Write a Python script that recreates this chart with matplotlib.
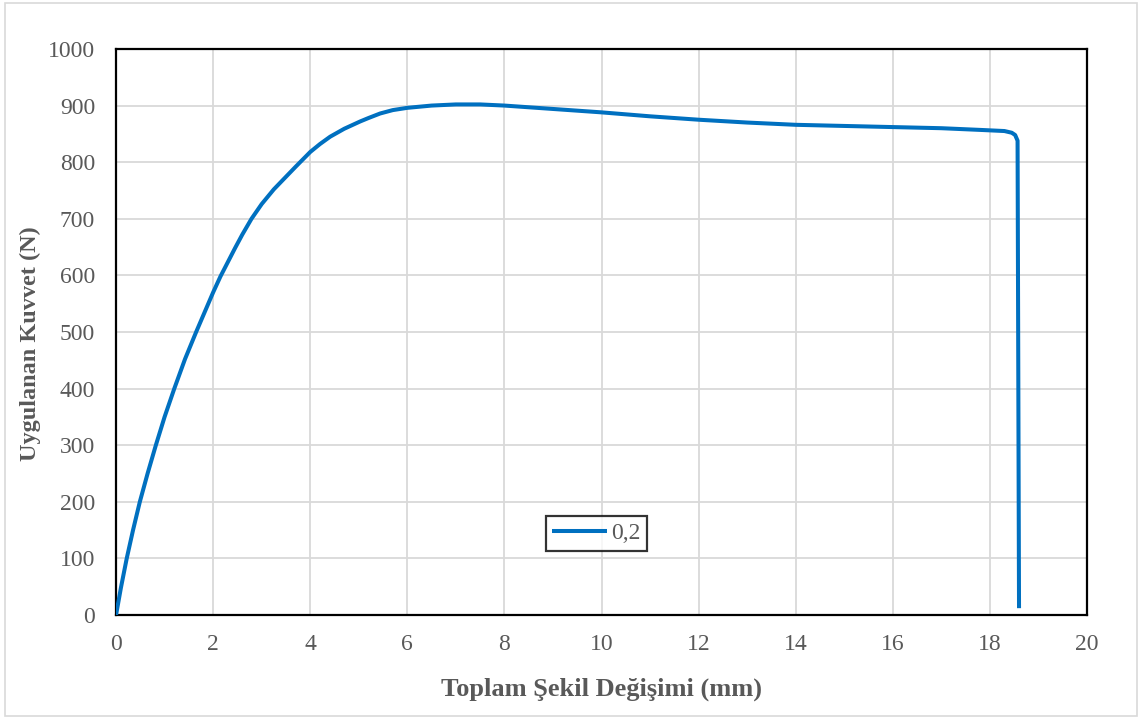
import numpy as np
import matplotlib.pyplot as plt
from matplotlib.patches import Rectangle

plt.rcParams['font.family'] = ['Liberation Serif', 'DejaVu Serif']

# okunan degerler (mm, N)
sekil_degisimi = [0.0, 0.1, 0.22, 0.35, 0.49, 0.65, 0.82, 1.0, 1.2, 1.42,
                  1.65, 1.85, 2.0, 2.15, 2.45, 2.6, 2.79, 3.0, 3.25, 3.7,
                  4.0, 4.2, 4.41, 4.7, 5.03, 5.2, 5.44, 5.7, 6.0, 6.5,
                  7.0, 7.5, 8.0, 9.0, 10.0, 11.0, 12.0, 13.0, 14.0, 15.0,
                  16.0, 17.0, 17.8, 18.3, 18.45, 18.52, 18.57, 18.6]
kuvvet = [0, 48, 100, 150, 200, 250, 300, 350, 400, 452,
          500, 540, 570, 598, 648, 672, 700, 726, 752, 792,
          818, 832, 845, 859, 872, 878, 886, 892, 896, 900,
          902, 902, 900, 894, 888, 881, 875, 870, 866, 864,
          862, 860, 857, 855, 852, 848, 838, 12]

mavi = '#0070C0'
gri = '#595959'

fig = plt.figure(figsize=(11.4, 7.18), dpi=100)
ax = fig.add_axes([0.1018, 0.1435, 0.8517, 0.7883])

ax.plot(sekil_degisimi, kuvvet, color=mavi, lw=2.9, label='0,2',
        solid_capstyle='butt', solid_joinstyle='round', zorder=3)

ax.set_xlim(0, 20)
ax.set_ylim(0, 1000)
ax.set_xticks(np.arange(0, 21, 2))
ax.set_yticks(np.arange(0, 1001, 100))
ax.grid(True, color='#D9D9D9', lw=1.3)
ax.set_axisbelow(True)
ax.tick_params(length=0, labelsize=17, labelcolor=gri)
ax.tick_params(axis='x', pad=14)
ax.tick_params(axis='y', pad=15)
for s in ax.spines.values():
    s.set_linewidth(1.6)
    s.set_color('black')

ax.set_xlabel('Toplam Şekil Değişimi (mm)', fontsize=19, fontweight='bold',
              color=gri, labelpad=16)
ax.set_ylabel('Uygulanan Kuvvet (N)', fontsize=17.5, fontweight='bold',
              color=gri, labelpad=5)
ax.yaxis.label.set_y(0.48)

leg = ax.legend(loc='center', bbox_to_anchor=(0.495, 0.144), fontsize=17,
                frameon=True, fancybox=False, handlelength=2.3,
                borderpad=0.28, handletextpad=0.2, labelcolor=gri)
leg.get_frame().set_edgecolor('black')
leg.get_frame().set_linewidth(1.6)

fig.patches.append(Rectangle((0.0044, 0.0028), 0.993, 0.993, transform=fig.transFigure,
                             fill=False, edgecolor='#D9D9D9', lw=1.2))

fig.savefig('out.png', dpi=100)
